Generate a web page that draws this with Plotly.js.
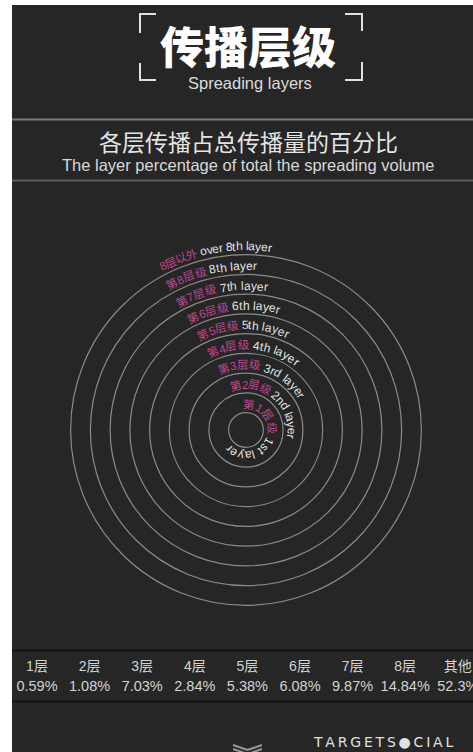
<!DOCTYPE html>
<html><head><meta charset="utf-8">
<script src="https://cdn.plot.ly/plotly-3.0.1.min.js"></script>
<style>html,body{margin:0;padding:0;background:#262626;overflow:hidden}</style>
</head><body><div id="chart" style="width:473px;height:752px"></div>
<script>
// ---------- data ----------
const categories = ['1层','2层','3层','4层','5层','6层','7层','8层','其他'];
const percentages = [0.59, 1.08, 7.03, 2.84, 5.38, 6.08, 9.87, 14.84, 52.3];
const layerIndex = [1, 2, 3, 4, 5, 6, 7, 8, 9];
const layerNamesCN = ['第1层级','第2层级','第3层级','第4层级','第5层级','第6层级','第7层级','第8层级','8层以外'];
const layerNamesEN = ['1st layer','2nd layer','3rd layer','4th layer','5th layer','6th layer','7th layer','8th layer','over 8th layer'];

// ---------- layout / style ----------
const W = 473, H = 752;
const CX = 246, CY = 430, PXU = 19.75;      // ring centre (px) and px per layer unit
const RING_OFFSET = 0.12, TEXT_GAP = 0.42;
const labelStartDeg = [-8, -20, -25, -27, -27.5, -28, -29, -29, -28];
const labelEndDeg   = [229, 101, 60, 38, 24, 16, 9, 4, 8];
const PINK = '#c0468c', LIGHT = '#e2e2e2', RING = '#8a8a8a';
const FONT = '"Liberation Sans", "Noto Sans CJK SC", sans-serif';
const CJK = '"Noto Sans CJK SC", "Liberation Sans", sans-serif';

const px = x => x / W;
const py = y => 1 - y / H;

const ctx = document.createElement('canvas').getContext('2d');
function mw(ch, size) { ctx.font = size + 'px "Liberation Sans","Noto Sans CJK SC",sans-serif'; return ctx.measureText(ch).width; }

const annotations = [];
const shapes = [];

// background strips
shapes.push({type:'rect', xref:'paper', yref:'paper', x0:0, x1:px(12), y0:0, y1:1, fillcolor:'#ffffff', line:{width:0}, layer:'below'});
shapes.push({type:'rect', xref:'paper', yref:'paper', x0:0, x1:1, y0:py(5), y1:1, fillcolor:'#ffffff', line:{width:0}, layer:'below'});

// separator lines
function hline(y, color, w) { shapes.push({type:'line', xref:'paper', yref:'paper', x0:px(12), x1:1, y0:py(y), y1:py(y), line:{color:color, width:w}}); }
hline(119.5, '#7a7a7a', 2);
hline(180.5, '#5e5e5e', 2);
hline(650.5, '#121212', 2);
hline(701.5, '#121212', 2);

// header brackets
function pathPx(pts) { return pts.map((p, i) => (i ? 'L' : 'M') + px(p[0]).toFixed(5) + ',' + py(p[1]).toFixed(5)).join(' '); }
const brk = {color:'#e0e0e0', width:2};
[[[140,33],[140,14],[156,14]], [[140,63],[140,80],[156,80]], [[345,14],[362,14],[362,31]], [[362,62],[362,80],[345,80]]]
  .forEach(p => shapes.push({type:'path', xref:'paper', yref:'paper', path:pathPx(p), line:brk}));

// chevron at bottom
[[[233,745],[247.5,750],[262,745]], [[233,749],[247.5,754],[262,749]]]
  .forEach(p => shapes.push({type:'path', xref:'paper', yref:'paper', path:pathPx(p), line:{color:'#9a9a9a', width:2}}));

// rings
layerIndex.forEach(k => {
  const R = k - RING_OFFSET;
  shapes.push({type:'circle', xref:'x', yref:'y', x0:-R, x1:R, y0:-R, y1:R, line:{color:RING, width:1.2}});
});

// ring labels along arcs
layerIndex.forEach((k, i) => {
  const chars = [];
  for (const ch of layerNamesCN[i]) chars.push({ch, size:11.5, color:PINK});
  chars.push({ch:' ', size:11, color:LIGHT});
  for (const ch of layerNamesEN[i]) chars.push({ch, size:12, color:LIGHT});
  chars.forEach(c => c.w = mw(c.ch, c.size));
  const total = chars.reduce((s, c) => s + c.w, 0);
  const a0 = labelStartDeg[i], a1 = labelEndDeg[i];
  const R = k - RING_OFFSET + TEXT_GAP;
  let cum = 0;
  chars.forEach(c => {
    const t = a0 + (cum + c.w / 2) / total * (a1 - a0);
    cum += c.w;
    if (c.ch === ' ') return;
    const rad = t * Math.PI / 180;
    annotations.push({x:R * Math.sin(rad), y:R * Math.cos(rad), xref:'x', yref:'y', text:c.ch, showarrow:false,
      textangle:t, xanchor:'center', yanchor:'middle', borderpad:0, font:{size:c.size, color:c.color, family:FONT}});
  });
});

// header texts
function txt(text, x, y, size, color, family, weight) {
  annotations.push({xref:'paper', yref:'paper', x:px(x), y:py(y), text, showarrow:false, xanchor:'center', yanchor:'middle',
    borderpad:0, font:{size, color, family, weight: weight || 'normal'}});
}
txt('传播层级', 248.5, 45, 44, '#ffffff', CJK, 900);
txt('Spreading layers', 250, 83, 16.5, '#dcdcdc', FONT);
txt('各层传播占总传播量的百分比', 248.5, 141, 23, '#e4e4e4', CJK);
txt('The layer percentage of total the spreading volume', 248, 164.5, 16.5, '#d8d8d8', FONT);
txt('T\u2009A\u2009R\u2009G\u2009E\u2009T\u2009S\u2009●\u2009C\u2009I\u2009A\u2009L', 383, 742, 14, '#e0e0e0', '"DejaVu Sans", sans-serif');

const traces = [
  {type:'scatter', x:[0], y:[0], mode:'none', hoverinfo:'skip', showlegend:false, xaxis:'x', yaxis:'y'},
  {type:'scatter', x:categories, y:categories.map(() => 1), mode:'text', text:categories, cliponaxis:false,
   textfont:{size:14, color:'#d2d2d2', family:FONT}, hoverinfo:'skip', showlegend:false, xaxis:'x2', yaxis:'y2'},
  {type:'scatter', x:categories, y:categories.map(() => 0), mode:'text', text:percentages.map(v => v + '%'), cliponaxis:false,
   textfont:{size:14.5, color:'#d2d2d2', family:FONT}, hoverinfo:'skip', showlegend:false, xaxis:'x2', yaxis:'y2'}
];

const layout = {
  width:W, height:H, margin:{l:0, r:0, t:0, b:0},
  paper_bgcolor:'#262626', plot_bgcolor:'rgba(0,0,0,0)', showlegend:false,
  font:{family:FONT},
  xaxis:{domain:[0,1], range:[-CX / PXU, (W - CX) / PXU], visible:false, fixedrange:true},
  yaxis:{domain:[0,1], range:[-(H - CY) / PXU, CY / PXU], visible:false, fixedrange:true},
  xaxis2:{domain:[0,1], type:'category', categoryarray:categories, range:[-37 / 52.6, (W - 37) / 52.6], anchor:'y2', visible:false, fixedrange:true},
  yaxis2:{domain:[py(697), py(657)], range:[-0.5, 1.5], anchor:'x2', visible:false, fixedrange:true},
  shapes, annotations
};

Plotly.newPlot('chart', traces, layout, {staticPlot:true, displayModeBar:false});
</script></body></html>
